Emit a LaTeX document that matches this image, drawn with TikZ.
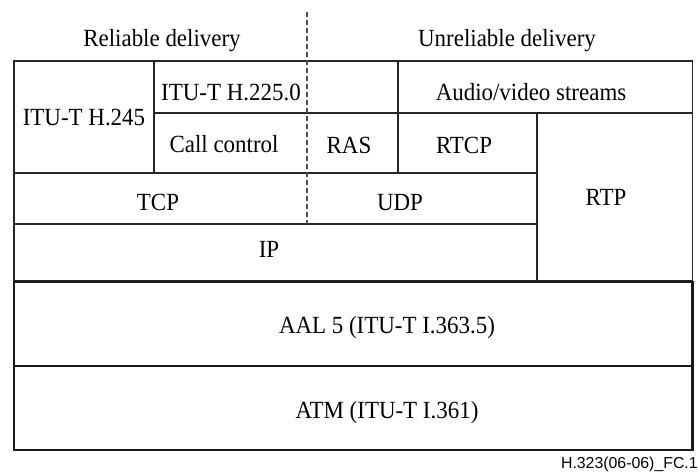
\documentclass[tikz,border=0pt]{standalone}
\usepackage{fontspec}
\setmainfont{Liberation Serif}[FakeStretch=0.93]
\newfontfamily\labelsans{Liberation Sans}
\begin{document}
\begin{tikzpicture}[x=0.75pt,y=-0.75pt,
  thinbox/.style={draw=black!85,line width=0.8pt},
  thickbox/.style={draw=black!90,line width=1.9pt},
  divider/.style={draw=black!70,line width=0.8pt,dash pattern=on 3.5pt off 2.5pt},
  lbl/.style={anchor=base,inner sep=0pt,font=\fontsize{18.5}{22}\selectfont},
  tag/.style={anchor=base east,inner sep=0pt,font=\labelsans\fontsize{11.9}{14}\selectfont}]
\useasboundingbox (0,0) rectangle (699,472);
% upper (thin) boxes
\draw[thinbox] (14,61) rectangle (154,173);
\draw[thinbox] (154,61) rectangle (398,113);
\draw[thinbox] (398,61) rectangle (692.5,113);
\draw[thinbox] (154,113) rectangle (398,173);
\draw[thinbox] (398,113) rectangle (537,173);
\draw[thinbox] (537,113) rectangle (692.5,281);
\draw[thinbox] (14,173) rectangle (537,224);
\draw[thinbox] (14,224) rectangle (537,281);
% dashed divider
\coordinate (dtop) at (307,12);
\coordinate (dbot) at (307,224);
\draw[divider] (dtop) -- (dbot);
% lower (thick) boxes
\draw[thickbox] (14,282) rectangle (692.5,366);
\draw[thickbox] (14,366) rectangle (692.5,450);
% texts
\node[lbl] (rel) at (162,46) {Reliable delivery};
\node[lbl] (unrel) at (507,46) {Unreliable delivery};
\node[lbl] (h245) at (84,125) {ITU-T H.245};
\node[lbl] (h225) at (231,100) {ITU-T H.225.0};
\node[lbl] (av) at (531,100) {Audio/video streams};
\node[lbl] (cc) at (224,152) {Call control};
\node[lbl] (ras) at (349,153) {RAS};
\node[lbl] (rtcp) at (464,153) {RTCP};
\node[lbl] (tcp) at (158,210) {TCP};
\node[lbl] (udp) at (400,210) {UDP};
\node[lbl] (rtp) at (606,205) {RTP};
\node[lbl] (ip) at (269,257) {IP};
\node[lbl] (aal) at (387,333) {AAL 5 (ITU-T I.363.5)};
\node[lbl] (atm) at (387,418) {ATM (ITU-T I.361)};
\node[tag] (fig) at (698,468) {H.323(06-06)\_FC.1};
\end{tikzpicture}
\end{document}
